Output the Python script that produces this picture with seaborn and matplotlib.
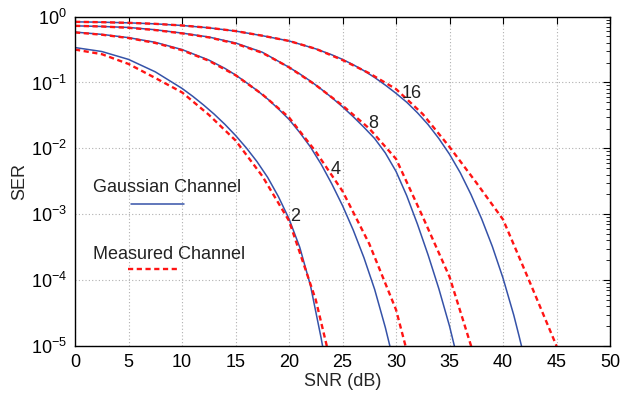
import numpy as np
import pandas as pd
import matplotlib
matplotlib.use("Agg")
import matplotlib.pyplot as plt
from matplotlib.lines import Line2D
from matplotlib.ticker import LogLocator, NullFormatter, FixedLocator
import seaborn as sns

# ---- data: symbol error rate vs SNR for M = 2, 4, 8, 16 ----
# Gaussian channel (theory)
snr_g2 = [0, 2.5, 5, 7.5, 10, 11, 12, 13, 14, 15, 16, 17, 18, 19, 20, 21, 22, 23, 23.3]
ser_g2 = [0.339, 0.295, 0.224, 0.145, 0.0813, 0.0617, 0.0457, 0.0331, 0.0232, 0.0157,
          0.0102, 0.00631, 0.00363, 0.00186, 8.51e-4, 3.16e-4, 8.32e-5, 1.32e-5, 7.08e-6]

snr_g4 = [0, 2.5, 5, 7.5, 10, 12.5, 14, 15, 16, 17, 18, 19, 20, 21, 22, 23, 24, 25,
          26, 27, 28, 29, 29.5]
ser_g4 = [0.582, 0.537, 0.479, 0.407, 0.316, 0.219, 0.164, 0.130, 0.100, 0.0759,
          0.0562, 0.0398, 0.0275, 0.0174, 0.0105, 0.00575, 0.00288, 0.00135,
          5.75e-4, 2.19e-4, 7.24e-5, 1.91e-5, 8.9e-6]

snr_g8 = [0, 2.5, 5, 7.5, 10, 12.5, 15, 17.5, 20, 21, 22, 23, 24, 25, 26, 27, 28,
          29, 30, 31, 32, 33, 34, 35, 35.5]
ser_g8 = [0.724, 0.708, 0.684, 0.631, 0.562, 0.490, 0.398, 0.288, 0.170, 0.135,
          0.105, 0.0794, 0.0589, 0.0427, 0.0302, 0.0209, 0.0141, 0.00851, 0.00447,
          0.00191, 7.08e-4, 2.40e-4, 7.41e-5, 2.00e-5, 9.3e-6]

snr_g16 = [0, 2.5, 5, 7.5, 10, 12.5, 15, 17.5, 20, 22.5, 24, 25, 26, 27, 28, 29, 30,
           31, 32, 33, 34, 35, 36, 37, 38, 39, 40, 41, 41.5, 41.8]
ser_g16 = [0.832, 0.822, 0.804, 0.776, 0.733, 0.676, 0.603, 0.513, 0.427, 0.324,
           0.263, 0.224, 0.186, 0.151, 0.119, 0.0912, 0.0684, 0.0501, 0.0347, 0.0229,
           0.0141, 0.00813, 0.00427, 0.00200, 8.51e-4, 3.24e-4, 1.07e-4, 2.95e-5,
           1.41e-5, 8.9e-6]

# Measured channel
snr_m2 = [0, 2.5, 5, 7.5, 10, 12.5, 15, 17.5, 20, 22.5, 25]
ser_m2 = [0.316, 0.269, 0.191, 0.117, 0.0708, 0.0324, 0.0132, 0.0038, 7.94e-4,
          5.01e-5, 1.0e-6]

snr_m4 = [0, 2.5, 5, 7.5, 10, 12.5, 15, 17.5, 20, 22.5, 25, 27.5, 30, 32.5]
ser_m4 = [0.575, 0.531, 0.473, 0.398, 0.309, 0.214, 0.129, 0.0661, 0.0295,
          0.00891, 0.00224, 3.55e-4, 3.55e-5, 1.0e-6]

snr_m8 = [0, 2.5, 5, 7.5, 10, 12.5, 15, 17.5, 20, 22.5, 25, 27.5, 30, 32.5, 35, 37.5]
ser_m8 = [0.724, 0.708, 0.676, 0.624, 0.556, 0.484, 0.389, 0.282, 0.170, 0.0912,
          0.0447, 0.0200, 0.00692, 9.12e-4, 1.12e-4, 5.6e-6]

snr_m16 = [0, 2.5, 5, 7.5, 10, 12.5, 15, 17.5, 20, 22.5, 25, 27.5, 30, 32.5, 35,
           37.5, 40, 42.5, 45]
ser_m16 = [0.832, 0.822, 0.804, 0.776, 0.733, 0.676, 0.603, 0.513, 0.427, 0.324,
           0.219, 0.138, 0.0794, 0.0331, 0.0105, 0.00302, 8.32e-4, 9.33e-5, 1.0e-5]

# curve labels: (text, snr, ser)
curve_labels = ["2", "4", "8", "16"]
label_snr = [20.6, 24.4, 27.85, 31.5]
label_ser = [9.3e-4, 4.7e-3, 0.024, 0.0686]

x_ticks = [0, 5, 10, 15, 20, 25, 30, 35, 40, 45, 50]

gaussian = [(snr_g2, ser_g2), (snr_g4, ser_g4), (snr_g8, ser_g8), (snr_g16, ser_g16)]
measured = [(snr_m2, ser_m2), (snr_m4, ser_m4), (snr_m8, ser_m8), (snr_m16, ser_m16)]

# ---- style ----
sns.set_style("white")
plt.rcParams["font.family"] = ["Liberation Sans", "DejaVu Sans"]
plt.rcParams["mathtext.fontset"] = "custom"
plt.rcParams["mathtext.rm"] = "Liberation Sans"
plt.rcParams["mathtext.it"] = "Liberation Sans:italic"
plt.rcParams["mathtext.bf"] = "Liberation Sans:bold"

BLUE = "#3552A8"
RED = "#FF1414"
DASH = (0, (2.2, 1.5))
FS = 13

fig = plt.figure(figsize=(6.31, 3.95), dpi=100)
ax = fig.add_axes([0.1189, 0.124, 0.8479, 0.834])

for snr, ser in gaussian:
    df = pd.DataFrame({"snr": snr, "ser": ser})
    sns.lineplot(data=df, x="snr", y="ser", ax=ax, color=BLUE, lw=1.1,
                 estimator=None, sort=False)
for snr, ser in measured:
    df = pd.DataFrame({"snr": snr, "ser": ser})
    sns.lineplot(data=df, x="snr", y="ser", ax=ax, color=RED, lw=1.7,
                 linestyle=DASH, estimator=None, sort=False)

ax.set_yscale("log")
ax.set_xlim(0, 50)
ax.set_ylim(1e-5, 1)
ax.xaxis.set_major_locator(FixedLocator(x_ticks))
ax.yaxis.set_major_locator(LogLocator(base=10, numticks=10))
ax.yaxis.set_minor_locator(LogLocator(base=10, subs=np.arange(2, 10), numticks=20))
ax.yaxis.set_minor_formatter(NullFormatter())

ax.grid(True, which="major", linestyle=(0, (1, 2)), color="#b0b0b0", lw=0.8)
ax.tick_params(which="both", direction="in", top=True, right=True,
               labelsize=FS, colors="black")
ax.tick_params(which="major", length=5, width=0.8, pad=6)
ax.tick_params(which="minor", length=3, width=0.6)
for s in ax.spines.values():
    s.set_color("black")
    s.set_linewidth(1.0)

ax.set_xlabel("SNR (dB)", fontsize=FS, labelpad=1)
ax.set_ylabel("SER", fontsize=FS, labelpad=2)

for t, xs, ys in zip(curve_labels, label_snr, label_ser):
    ax.text(xs, ys, t, fontsize=FS, ha="center", va="center", color="#222222")

# hand-drawn key
ax.text(0.034, 0.48, "Gaussian Channel", transform=ax.transAxes,
        fontsize=FS, va="center", ha="left", color="#222222")
ax.add_line(Line2D([0.105, 0.204], [0.431, 0.431], transform=ax.transAxes,
                   color=BLUE, lw=1.1))
ax.text(0.034, 0.279, "Measured Channel", transform=ax.transAxes,
        fontsize=FS, va="center", ha="left", color="#222222")
ax.add_line(Line2D([0.099, 0.196], [0.234, 0.234], transform=ax.transAxes,
                   color=RED, lw=1.7, linestyle=DASH))

fig.savefig("out.png", dpi=100)
